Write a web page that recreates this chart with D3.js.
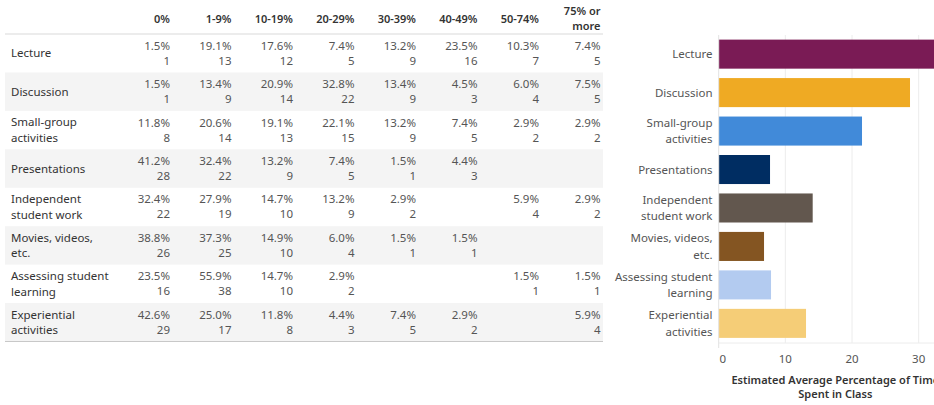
<!DOCTYPE html>
<html>
<head>
<meta charset="utf-8">
<script src="https://cdn.jsdelivr.net/npm/d3@7"></script>
<style>
  body { margin: 0; background: #fff; }
  svg { display: block; font-family: "Noto Sans", sans-serif; }
</style>
</head>
<body>
<svg id="chart" width="934" height="405"></svg>
<script>
const activities = [
  ["Lecture"],
  ["Discussion"],
  ["Small-group", "activities"],
  ["Presentations"],
  ["Independent", "student work"],
  ["Movies, videos,", "etc."],
  ["Assessing student", "learning"],
  ["Experiential", "activities"]
];
const binLabels = [["0%"], ["1-9%"], ["10-19%"], ["20-29%"], ["30-39%"], ["40-49%"], ["50-74%"], ["75% or", "more"]];

// percent of respondents per time bin (null = no response)
const pctValues = [
  [1.5, 19.1, 17.6, 7.4, 13.2, 23.5, 10.3, 7.4],
  [1.5, 13.4, 20.9, 32.8, 13.4, 4.5, 6.0, 7.5],
  [11.8, 20.6, 19.1, 22.1, 13.2, 7.4, 2.9, 2.9],
  [41.2, 32.4, 13.2, 7.4, 1.5, 4.4, null, null],
  [32.4, 27.9, 14.7, 13.2, 2.9, null, 5.9, 2.9],
  [38.8, 37.3, 14.9, 6.0, 1.5, 1.5, null, null],
  [23.5, 55.9, 14.7, 2.9, null, null, 1.5, 1.5],
  [42.6, 25.0, 11.8, 4.4, 7.4, 2.9, null, 5.9]
];
const countValues = [
  [1, 13, 12, 5, 9, 16, 7, 5],
  [1, 9, 14, 22, 9, 3, 4, 5],
  [8, 14, 13, 15, 9, 5, 2, 2],
  [28, 22, 9, 5, 1, 3, null, null],
  [22, 19, 10, 9, 2, null, 4, 2],
  [26, 25, 10, 4, 1, 1, null, null],
  [16, 38, 10, 2, null, null, 1, 1],
  [29, 17, 8, 3, 5, 2, null, 4]
];
const avgPercent = [33.0, 28.7, 21.5, 7.7, 14.1, 6.8, 7.85, 13.1];
const barColors = ["#7a1b55", "#efaa23", "#418ad9", "#002d62", "#62574e", "#845522", "#b3cbf0", "#f5cd77"];
const xTicks = [0, 10, 20, 30];

const svg = d3.select("#chart");
const keys = activities.map(d => d.join(" "));

// ---------- table ----------
const rowY = d3.scaleBand().domain(keys).range([34, 341.5]);
const colX = d3.scalePoint().domain(binLabels.map(d => d.join(" "))).range([170, 600.5]);

const table = svg.append("g").attr("class", "table");

table.selectAll(".row-bg")
  .data(keys.filter((d, i) => i % 2 === 1))
  .enter().append("rect")
  .attr("x", 5)
  .attr("y", d => rowY(d))
  .attr("width", 598)
  .attr("height", rowY.bandwidth())
  .attr("fill", "#f4f4f4");

table.append("line")
  .attr("x1", 5).attr("x2", 603)
  .attr("y1", 34).attr("y2", 34)
  .attr("stroke", "#d9d9d9");
table.append("line")
  .attr("x1", 5).attr("x2", 603)
  .attr("y1", 341.5).attr("y2", 341.5)
  .attr("stroke", "#c8c8c8");

// column headers
binLabels.forEach(lines => {
  const k = lines.join(" ");
  const t = table.append("text")
    .attr("text-anchor", "end")
    .attr("font-size", 11)
    .attr("font-weight", 600)
    .attr("fill", "#333");
  lines.forEach((ln, j) => {
    t.append("tspan")
      .attr("x", colX(k))
      .attr("y", 19 + (j - (lines.length - 1) / 2) * 15)
      .attr("dy", "0.35em")
      .text(ln);
  });
});

// row labels
activities.forEach((lines, i) => {
  const cy = rowY(keys[i]) + rowY.bandwidth() / 2;
  const t = table.append("text")
    .attr("font-size", 11.5)
    .attr("fill", "#333");
  lines.forEach((ln, j) => {
    t.append("tspan")
      .attr("x", 11)
      .attr("y", cy + (j - (lines.length - 1) / 2) * 15.5)
      .attr("dy", "0.35em")
      .text(ln);
  });
});

// cells
pctValues.forEach((row, i) => {
  const cy = rowY(keys[i]) + rowY.bandwidth() / 2;
  row.forEach((v, c) => {
    if (v === null) return;
    const x = colX(binLabels[c].join(" "));
    const t = table.append("text")
      .attr("text-anchor", "end")
      .attr("font-size", 11.5)
      .attr("fill", "#555");
    t.append("tspan").attr("x", x).attr("y", cy - 7.5).attr("dy", "0.35em").text(v.toFixed(1) + "%");
    t.append("tspan").attr("x", x).attr("y", cy + 7.5).attr("dy", "0.35em").text(countValues[i][c]);
  });
});

// ---------- bar chart ----------
const x = d3.scaleLinear().domain([0, 35]).range([718.7, 952]);
const y = d3.scaleBand().domain(keys).range([35, 342.5]).paddingInner(0.245).paddingOuter(0.12);

const bars = svg.append("g").attr("class", "bars");

bars.selectAll(".grid")
  .data(xTicks.slice(1))
  .enter().append("line")
  .attr("x1", d => x(d)).attr("x2", d => x(d))
  .attr("y1", 35).attr("y2", 343)
  .attr("stroke", "#ececec");

bars.append("line")
  .attr("x1", x(0)).attr("x2", 934)
  .attr("y1", 343).attr("y2", 343)
  .attr("stroke", "#ececec");

bars.selectAll(".bar")
  .data(avgPercent)
  .enter().append("rect")
  .attr("class", "bar")
  .attr("x", x(0))
  .attr("y", (d, i) => y(keys[i]))
  .attr("width", d => x(d) - x(0))
  .attr("height", y.bandwidth())
  .attr("fill", (d, i) => barColors[i]);

bars.append("line")
  .attr("x1", x(0)).attr("x2", x(0))
  .attr("y1", 35).attr("y2", 348)
  .attr("stroke", "#e2e2e2");

// category labels
activities.forEach((lines, i) => {
  const cy = y(keys[i]) + y.bandwidth() / 2;
  const t = bars.append("text")
    .attr("text-anchor", "end")
    .attr("font-size", 11.5)
    .attr("fill", "#555");
  lines.forEach((ln, j) => {
    t.append("tspan")
      .attr("x", 712.5)
      .attr("y", cy + (j - (lines.length - 1) / 2) * 16.5)
      .attr("dy", "0.35em")
      .text(ln);
  });
});

// axis tick labels
bars.selectAll(".tick-label")
  .data(xTicks)
  .enter().append("text")
  .attr("x", d => d === 0 ? x(d) + 4 : x(d))
  .attr("y", 359)
  .attr("dy", "0.35em")
  .attr("text-anchor", "middle")
  .attr("font-size", 11.5)
  .attr("fill", "#555")
  .text(d => d);

// axis title
const title = bars.append("text")
  .attr("text-anchor", "middle")
  .attr("font-size", 11)
  .attr("font-weight", 600)
  .attr("fill", "#333");
["Estimated Average Percentage of Time", "Spent in Class"].forEach((ln, j) => {
  title.append("tspan")
    .attr("x", (x.range()[0] + x.range()[1]) / 2)
    .attr("y", 380 + j * 14.5)
    .attr("dy", "0.35em")
    .text(ln);
});
</script>
</body>
</html>
